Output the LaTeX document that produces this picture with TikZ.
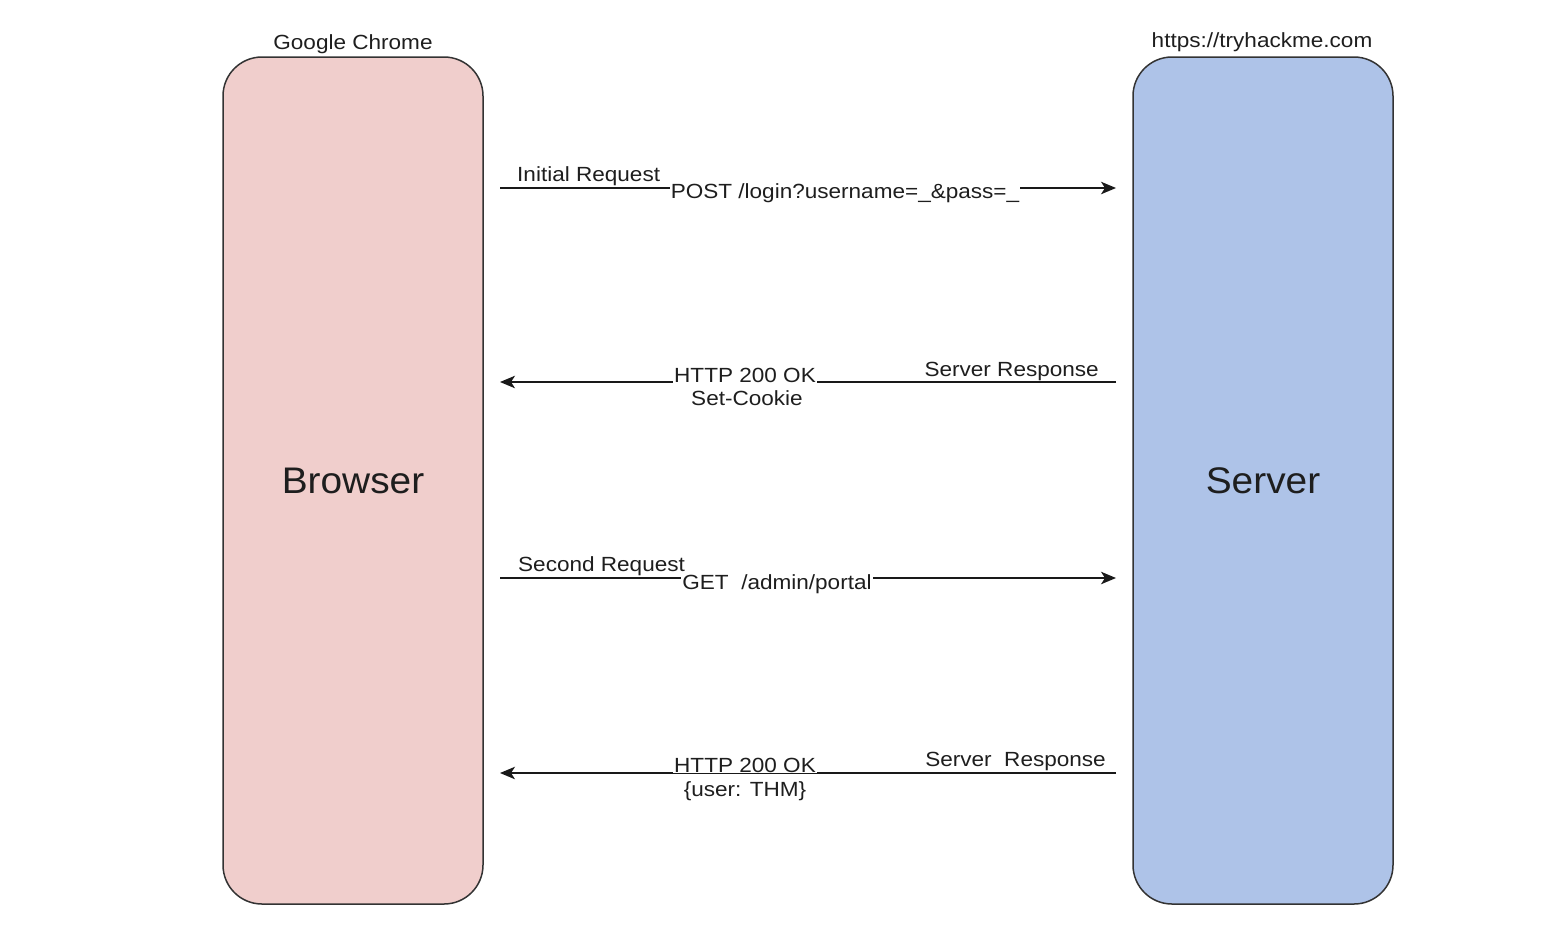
\documentclass[tikz,border=0pt]{standalone}
\usepackage{fontspec}
\setmainfont{Liberation Sans}
\newfontfamily\lblfont{Liberation Sans}[FakeStretch=1.1]
\newfontfamily\ttlfont{Liberation Sans}[FakeStretch=1.05]
\usetikzlibrary{arrows.meta}
\definecolor{browserfill}{RGB}{240,206,204}
\definecolor{serverfill}{RGB}{174,195,232}
\definecolor{ink}{RGB}{30,30,30}

\begin{document}
\begin{tikzpicture}[x=1pt,y=-1pt,
  party/.style={draw=black!80, line width=1.5pt, rounded corners=39pt,
    minimum width=260pt, minimum height=847pt, inner sep=0pt,
    font=\ttlfont\fontsize{37}{44}\selectfont, text=ink},
  caption/.style={font=\lblfont\fontsize{20.5}{23}\selectfont, text=ink, inner sep=0pt},
  msg/.style={draw=black!90, line width=1.4pt,
    -{Stealth[length=15pt,width=12.5pt,inset=4pt]}},
  onwire/.style={caption, fill=white, inner xsep=1pt, inner ysep=1pt}
]
\useasboundingbox (0,0) rectangle (1542,946);

% the two parties
\node[party, fill=browserfill] (browser) at (353,480.5) {Browser};
\node[party, fill=serverfill]  (server)  at (1263,480.5) {Server};
\node[caption, anchor=base] (chrome) at (353,49) {Google Chrome};
\node[caption, anchor=base] (host) at (1262,47) {https://tryhackme.com};

% message end points
\coordinate (m1a) at (500,188);  \coordinate (m1b) at (1116,188);
\coordinate (m2a) at (1116,382); \coordinate (m2b) at (500,382);
\coordinate (m3a) at (500,578);  \coordinate (m3b) at (1116,578);
\coordinate (m4a) at (1116,773); \coordinate (m4b) at (500,773);

% messages
\draw[msg] (m1a) -- (m1b);
\draw[msg] (m2a) -- (m2b);
\draw[msg] (m3a) -- (m3b);
\draw[msg] (m4a) -- (m4b);

% login request
\node[caption, anchor=base west] (t1) at (517,181) {Initial Request};
\node[onwire, anchor=base] (p1) at (845,198) {POST /login?username=\_\&pass=\_};

% login response
\node[caption, anchor=base east] (t2) at (1099,376) {Server Response};
\node[onwire, anchor=base] (p2) at (745,382) {HTTP 200 OK};
\node[caption, anchor=base] (q2) at (747,405) {Set-Cookie};

% portal request
\node[caption, anchor=base west] (t3) at (518,571) {Second Request};
\node[onwire, anchor=base] (p3) at (777,589) {GET\ \ /admin/portal};

% portal response
\node[caption, anchor=base east] (t4) at (1106,766) {Server\ \ Response};
\node[onwire, anchor=base] (p4) at (745,772) {HTTP 200 OK};
\node[caption, anchor=base] (q4) at (745,796) {\{user: THM\}};
\end{tikzpicture}
\end{document}
